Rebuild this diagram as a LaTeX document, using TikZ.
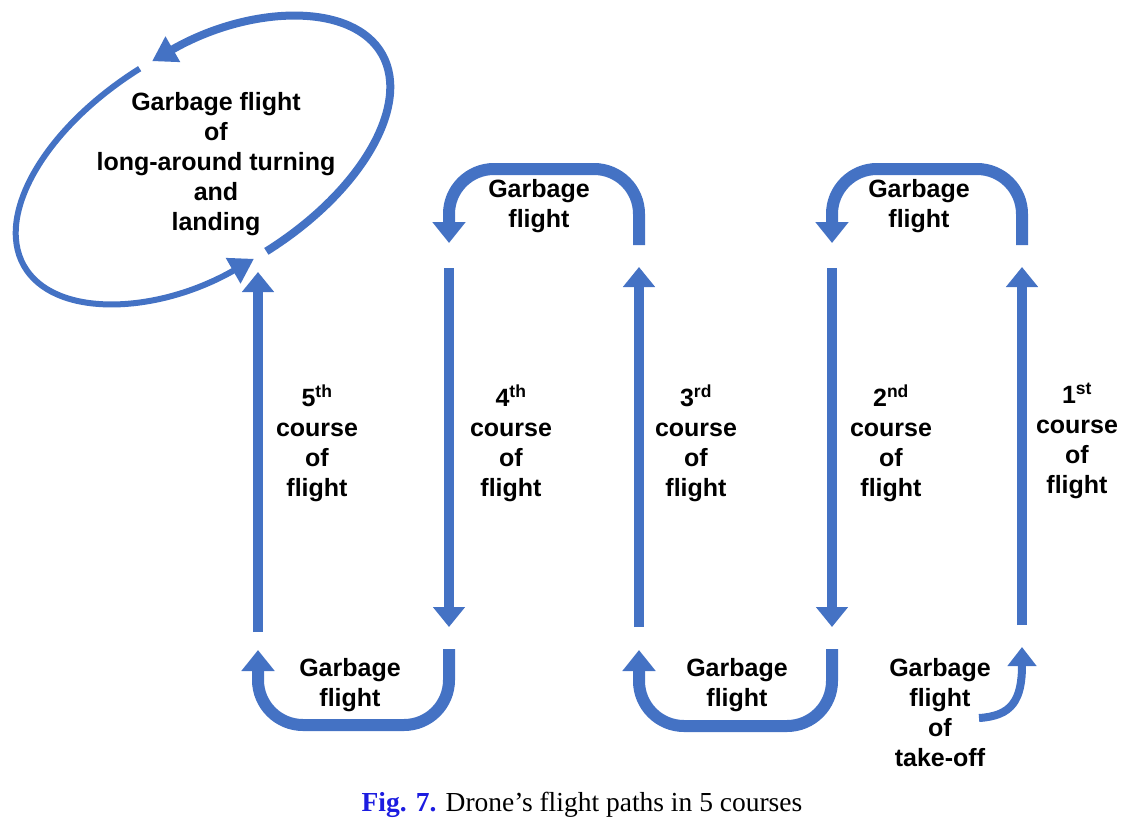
\documentclass[tikz,border=0pt]{standalone}
\usepackage{fontspec}
\setmainfont{Liberation Serif}
\setsansfont{Liberation Sans}
\usetikzlibrary{arrows.meta,positioning}
\definecolor{flightBlue}{HTML}{4472C4}
\definecolor{captionBlue}{HTML}{1C1CE0}

\begin{document}
\begin{tikzpicture}[
  x=1pt,y=-1pt,
  font=\sffamily\bfseries\fontsize{25}{30}\selectfont,
  lbl/.style={align=center,inner sep=0pt,text=black},
  course/.style={line width=10pt,draw=flightBlue,-{Triangle[width=31pt,length=20pt,fill=flightBlue]}},
  uturn/.style={line width=12pt,draw=flightBlue,rounded corners=45pt,-{Triangle[width=32pt,length=21pt,fill=flightBlue]}},
  ringarr/.style={line width=#1,draw=flightBlue,-{Triangle[width=28pt,length=24pt,fill=flightBlue]}}
]
  \useasboundingbox (0,0) rectangle (1138,825);

  \coordinate (c5b) at (258,632); \coordinate (c5t) at (258,272);
  \coordinate (c4t) at (449,268); \coordinate (c4b) at (449,627);
  \coordinate (c3b) at (639,627); \coordinate (c3t) at (639,267);
  \coordinate (c2t) at (832,268); \coordinate (c2b) at (832,627);
  \coordinate (c1b) at (1022,625); \coordinate (c1t) at (1022,267);

  \draw[course] (c5b) -- (c5t);
  \draw[course] (c4t) -- (c4b);
  \draw[course] (c3b) -- (c3t);
  \draw[course] (c2t) -- (c2b);
  \draw[course] (c1b) -- (c1t);

  \draw[uturn] (639,245) -- (639,169) -- (449,169) -- (449,243);
  \draw[uturn] (1022,245) -- (1022,169) -- (832,169) -- (832,243);
  \draw[uturn] (449,649) -- (449,725) -- (258,725) -- (258,650);
  \draw[uturn] (832,649) -- (832,726) -- (639,726) -- (639,650);

  \coordinate (tko) at (979,718);
  \draw[line width=8pt,draw=flightBlue,-{Triangle[width=28pt,length=19pt,fill=flightBlue]}]
    (tko) .. controls (1012,716) and (1022,700) .. (1022,647);

  \begin{scope}[shift={(203,160)},rotate=31]
    \draw[ringarr=8pt] (88:208 and 111) arc[start angle=88,end angle=-88,x radius=208,y radius=111];
    \draw[ringarr=6pt] (-92:208 and 111) arc[start angle=-92,end angle=-268,x radius=208,y radius=111];
  \end{scope}

  \node[lbl] (ring) at (216,164) {Garbage flight\\of\\long-around turning\\and\\landing};
  \node[lbl] (g43) at (539,206) {Garbage\\flight};
  \node[lbl] (g21) at (919,206) {Garbage\\flight};
  \node[lbl] (g54) at (350,685) {Garbage\\flight};
  \node[lbl] (g32) at (737,685) {Garbage\\flight};
  \node[lbl] (takeoff) at (940,713) {Garbage\\flight\\of\\take-off};

  \node[lbl] (l5) at (317,443) {5\textsuperscript{th}\\course\\of\\flight};
  \node[lbl] (l4) at (511,443) {4\textsuperscript{th}\\course\\of\\flight};
  \node[lbl] (l3) at (696,443) {3\textsuperscript{rd}\\course\\of\\flight};
  \node[lbl] (l2) at (891,443) {2\textsuperscript{nd}\\course\\of\\flight};
  \node[lbl] (l1) at (1077,441) {1\textsuperscript{st}\\course\\of\\flight};

  \node[lbl,font=\rmfamily\mdseries\fontsize{27.5}{30}\selectfont] (caption) at (582,805)
    {{\color{captionBlue}\bfseries Fig. 7.} Drone’s flight paths in 5 courses};
\end{tikzpicture}
\end{document}
